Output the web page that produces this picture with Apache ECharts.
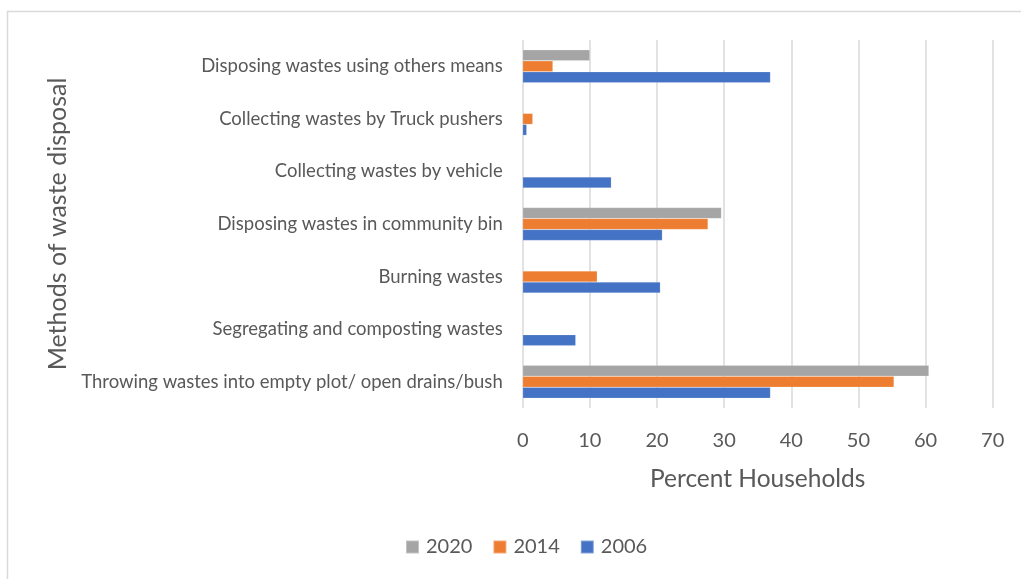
<!DOCTYPE html>
<html>
<head>
<meta charset="utf-8">
<script src="https://cdn.jsdelivr.net/npm/echarts@6/dist/echarts.min.js"></script>
<style>
  html, body { margin: 0; padding: 0; background: #fff; }
  #chart { width: 1021px; height: 579px; }
</style>
</head>
<body>
<div id="chart"></div>
<script>
// Waste disposal methods, bottom to top on the category axis
const methods = [
  'Throwing wastes into empty plot/ open drains/bush',
  'Segregating and composting wastes',
  'Burning wastes',
  'Disposing wastes in community bin',
  'Collecting wastes by vehicle',
  'Collecting wastes by Truck pushers',
  'Disposing wastes using others means'
];

// Percent of households per method and survey year (null = not reported)
const y2006 = [36.9, 7.9, 20.5, 20.8, 13.2, 0.6, 36.9];
const y2014 = [55.3, null, 11.1, 27.6, null, 1.5, 4.5];
const y2020 = [60.5, null, null, 29.6, null, null, 10.0];

const xTicks = { min: 0, max: 70, interval: 10 };

const FONT = 'Lato';
const TEXT = '#595959';

const chart = echarts.init(document.getElementById('chart'), null, { renderer: 'canvas' });

function barSeries(name, data, color) {
  return {
    name: name,
    type: 'bar',
    data: data,
    barWidth: 11,
    barGap: '0%',
    itemStyle: { color: color, borderColor: 'rgba(255,255,255,0.35)', borderWidth: 0.5 },
    emphasis: { disabled: true }
  };
}

chart.setOption({
  animation: false,
  backgroundColor: '#ffffff',
  textStyle: { fontFamily: FONT },
  graphic: [{
    type: 'rect',
    shape: { x: 7.5, y: 11.5, width: 1100, height: 700 },
    style: { fill: 'none', stroke: '#d9d9d9', lineWidth: 1.5 },
    silent: true,
    z: -10
  }],
  grid: { left: 522.7, right: 28.3, top: 40, bottom: 171, containLabel: false },
  legend: {
    bottom: 22,
    left: 405,
    padding: 0,
    icon: 'rect',
    itemWidth: 13,
    itemHeight: 13,
    itemGap: 20,
    textStyle: { fontFamily: FONT, fontSize: 20, color: TEXT, padding: [0, 0, 0, 2] }
  },
  xAxis: {
    type: 'value',
    min: xTicks.min,
    max: xTicks.max,
    interval: xTicks.interval,
    name: 'Percent Households',
    nameLocation: 'middle',
    nameGap: 59,
    nameTextStyle: { fontFamily: FONT, fontSize: 24.5, color: TEXT },
    axisLine: { show: false },
    axisTick: { show: false },
    axisLabel: { fontFamily: FONT, fontSize: 20, color: TEXT, margin: 23 },
    splitLine: { show: true, lineStyle: { color: '#d9d9d9', width: 1.5 } }
  },
  yAxis: {
    type: 'category',
    data: methods,
    name: 'Methods of waste disposal',
    nameLocation: 'middle',
    nameGap: 452,
    nameRotate: 90,
    nameTextStyle: { fontFamily: FONT, fontSize: 25, color: TEXT },
    axisLine: { show: false },
    axisTick: { show: false },
    axisLabel: { fontFamily: FONT, fontSize: 18.5, color: TEXT, margin: 20 },
    splitLine: { show: false }
  },
  // listed top-down within each group: 2020 above 2014 above 2006
  series: [
    barSeries('2020', y2020, '#a5a5a5'),
    barSeries('2014', y2014, '#ed7d31'),
    barSeries('2006', y2006, '#4472c4')
  ]
});
</script>
</body>
</html>
